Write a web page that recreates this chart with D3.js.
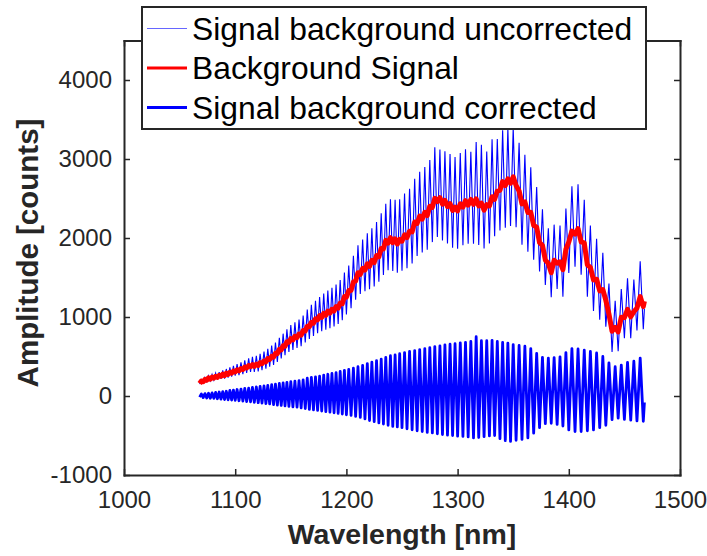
<!DOCTYPE html>
<html>
<head>
<meta charset="utf-8">
<script src="https://cdn.jsdelivr.net/npm/d3@7"></script>
<style>
  body { margin: 0; background: #fff; }
  text { font-family: "Liberation Sans", Arial, Helvetica, sans-serif; }
</style>
</head>
<body>
<script>
// Wavelength samples [nm] (fringe extrema: troughs on even index, peaks on odd)
const wavelength = [
  1068.0,1069.6,1071.2,1072.8,1074.4,1076.0,1077.6,1079.2,1080.8,1082.4,
  1084.0,1085.6,1087.2,1088.8,1090.4,1092.0,1093.6,1095.2,1096.8,1098.4,
  1100.0,1101.7,1103.4,1105.2,1106.9,1108.6,1110.3,1112.1,1113.8,1115.5,
  1117.2,1119.0,1120.7,1122.4,1124.1,1125.9,1127.6,1129.3,1131.0,1132.8,
  1134.5,1136.2,1137.9,1139.7,1141.4,1143.1,1144.8,1146.5,1148.3,1150.0,
  1151.9,1153.7,1155.6,1157.4,1159.3,1161.1,1163.0,1164.8,1166.7,1168.5,
  1170.4,1172.2,1174.1,1175.9,1177.8,1179.6,1181.5,1183.3,1185.2,1187.0,
  1188.9,1190.7,1192.6,1194.4,1196.3,1198.2,1200.0,1202.1,1204.2,1206.3,
  1208.3,1210.4,1212.5,1214.6,1216.7,1218.8,1220.8,1222.9,1225.0,1227.1,
  1229.2,1231.3,1233.3,1235.4,1237.5,1239.6,1241.7,1243.8,1245.8,1247.9,
  1250.0,1252.3,1254.5,1256.8,1259.1,1261.4,1263.6,1265.9,1268.2,1270.5,
  1272.7,1275.0,1277.3,1279.5,1281.8,1284.1,1286.4,1288.6,1290.9,1293.2,
  1295.5,1297.7,1300.0,1302.4,1304.8,1307.1,1309.5,1311.9,1314.3,1316.7,
  1319.0,1321.4,1323.8,1326.2,1328.6,1331.0,1333.3,1335.7,1338.1,1340.5,
  1342.9,1345.2,1347.6,1350.0,1352.6,1355.3,1357.9,1360.5,1363.2,1365.8,
  1368.4,1371.1,1373.7,1376.3,1378.9,1381.6,1384.2,1386.8,1389.5,1392.1,
  1394.7,1397.4,1400.0,1402.8,1405.6,1408.3,1411.1,1413.9,1416.7,1419.4,
  1422.2,1425.0,1427.8,1430.6,1433.3,1436.1,1438.9,1441.7,1444.4,1447.2,
  1450.0,1452.8,1455.7,1458.5,1461.3,1464.2,1467.0,1468.0
];

// Signal background uncorrected [counts]
const uncorrected = [
  150,207,168,233,182,257,193,273,202,289,
  207,303,218,323,221,342,233,363,245,383,
  257,405,265,426,277,453,292,478,305,496,
  305,510,312,535,327,561,347,598,372,638,
  392,678,432,736,476,789,516,845,559,897,
  583,932,609,967,631,1019,678,1094,721,1154,
  761,1206,796,1254,821,1297,838,1334,859,1369,
  879,1411,911,1469,958,1564,1033,1652,1111,1776,
  1218,1909,1291,1982,1326,2059,1351,2124,1386,2202,
  1446,2312,1531,2432,1591,2489,1581,2484,1559,2491,
  1586,2564,1616,2624,1678,2749,1771,2837,1816,2899,
  1851,2986,1948,3150,2013,3119,1968,3097,1931,3064,
  1876,3026,1863,3076,1909,3124,1928,3090,1926,3216,
  1911,3180,1866,3094,1931,3250,2021,3254,2096,3364,
  2131,3389,2151,3394,2136,3204,1916,3054,1826,2894,
  1726,2644,1576,2364,1406,2124,1251,2169,1356,2159,
  1256,2374,1556,2654,1636,2679,1536,2484,1256,2159,
  1076,1989,966,1814,876,1424,556,1204,566,1354,
  731,1489,731,1474,831,1704,846,1104
];

// Background Signal [counts]
const background = [
  158,190,180,210,200,230,214,240,226,250,
  236,262,250,276,258,290,274,300,290,316,
  304,332,318,346,334,366,354,386,372,396,
  376,404,388,422,408,442,432,474,462,502,
  492,540,536,590,584,636,630,686,680,726,
  710,756,740,784,770,828,824,882,878,932,
  922,978,964,1018,996,1046,1022,1074,1050,1098,
  1076,1132,1114,1176,1168,1258,1252,1334,1336,1444,
  1456,1560,1540,1616,1594,1672,1640,1716,1690,1778,
  1762,1868,1862,1970,1936,2004,1940,1990,1924,1982,
  1960,2040,2004,2086,2078,2202,2184,2276,2238,2326,
  2284,2402,2388,2502,2462,2512,2428,2476,2398,2436,
  2348,2392,2342,2432,2392,2472,2416,2488,2426,2494,
  2406,2442,2352,2422,2406,2522,2490,2594,2604,2714,
  2664,2748,2694,2774,2664,2596,2432,2456,2322,2326,
  2160,2138,1940,1908,1720,1678,1560,1718,1680,1698,
  1600,1858,1950,2088,2050,2118,1950,1938,1660,1628,
  1470,1478,1330,1348,1210,1038,820,868,812,998,
  992,1098,1002,1068,1112,1258,1132,1200
];

// Signal background corrected [counts]
const corrected = [
  -15,25,-20,30,-25,35,-28,40,-30,45,
  -35,50,-40,55,-45,60,-48,70,-52,75,
  -55,82,-60,88,-64,95,-70,100,-74,108,
  -80,115,-85,122,-90,128,-95,135,-100,145,
  -110,150,-115,158,-120,165,-125,172,-132,182,
  -138,188,-142,195,-150,205,-158,225,-170,235,
  -175,242,-182,250,-190,265,-198,275,-205,285,
  -212,295,-220,310,-228,325,-238,338,-245,352,
  -258,370,-270,388,-290,410,-310,430,-325,448,
  -340,468,-355,488,-370,510,-385,520,-392,535,
  -400,550,-415,565,-428,575,-440,588,-450,600,
  -460,612,-468,625,-478,635,-488,648,-495,655,
  -500,662,-508,672,-512,680,-518,690,-530,750,
  -525,700,-515,700,-505,705,-500,690,-540,680,
  -565,670,-575,650,-560,640,-550,630,-530,600,
  -470,540,-400,490,-350,480,-345,485,-360,495,
  -380,550,-430,600,-450,595,-450,580,-440,565,
  -430,545,-400,500,-370,420,-300,370,-280,390,
  -295,425,-305,440,-315,480,-320,-80
];

const xTicks = [1000, 1100, 1200, 1300, 1400, 1500];
const yTicks = [-1000, 0, 1000, 2000, 3000, 4000];
const legendLabels = ["Signal background uncorrected", "Background Signal", "Signal background corrected"];

const W = 707, H = 556;
const plotLeft = 124, plotRight = 680, plotTop = 40.5, plotBottom = 475;
const axisColor = "#262626";

const svg = d3.select("body").append("svg")
    .attr("width", W)
    .attr("height", H);

const x = d3.scaleLinear().domain([1000, 1500]).range([plotLeft, plotRight]);
const y = d3.scaleLinear().domain([-1000, 4500]).range([plotBottom, plotTop]);

// Lines
const line = vals => d3.line()
    .x((d, i) => x(wavelength[i]))
    .y(d => y(d))(vals);

svg.append("path")
    .attr("d", line(uncorrected))
    .attr("fill", "none")
    .attr("stroke", "#0000ff")
    .attr("stroke-width", 1.1);

svg.append("path")
    .attr("d", line(background))
    .attr("fill", "none")
    .attr("stroke", "#ff0000")
    .attr("stroke-width", 5)
    .attr("stroke-linejoin", "round");

svg.append("path")
    .attr("d", line(corrected))
    .attr("fill", "none")
    .attr("stroke", "#0000ff")
    .attr("stroke-width", 2.8)
    .attr("stroke-linejoin", "round");

// Axes (ticks inward, MATLAB style box)
const fmt = d => String(d);

const gx = svg.append("g")
    .attr("transform", `translate(0,${plotBottom})`)
    .call(d3.axisBottom(x).tickValues(xTicks).tickFormat(fmt)
        .tickSizeInner(-6).tickSizeOuter(0).tickPadding(16));

const gy = svg.append("g")
    .attr("transform", `translate(${plotLeft},0)`)
    .call(d3.axisLeft(y).tickValues(yTicks).tickFormat(fmt)
        .tickSizeInner(-6).tickSizeOuter(0).tickPadding(12));

const gt = svg.append("g")
    .attr("transform", `translate(0,${plotTop})`)
    .call(d3.axisTop(x).tickValues(xTicks).tickFormat("")
        .tickSizeInner(-6).tickSizeOuter(0));

const gr = svg.append("g")
    .attr("transform", `translate(${plotRight},0)`)
    .call(d3.axisRight(y).tickValues(yTicks).tickFormat("")
        .tickSizeInner(-6).tickSizeOuter(0));

[gx, gy, gt, gr].forEach(g => {
    g.select(".domain").attr("stroke", axisColor).attr("stroke-width", 2)
        .attr("stroke-linecap", "square");
    g.selectAll(".tick line").attr("stroke", axisColor).attr("stroke-width", 1.5);
    g.selectAll(".tick text")
        .attr("fill", axisColor)
        .style("font-size", "24px")
        .style("font-family", '"Liberation Sans", Arial, sans-serif');
});

// Axis labels
svg.append("text")
    .attr("x", (plotLeft + plotRight) / 2)
    .attr("y", 544)
    .attr("text-anchor", "middle")
    .attr("fill", axisColor)
    .style("font-size", "28.5px")
    .style("font-weight", "bold")
    .text("Wavelength [nm]");

svg.append("text")
    .attr("transform", "translate(38,253) rotate(-90)")
    .attr("text-anchor", "middle")
    .attr("fill", axisColor)
    .style("font-size", "29.5px")
    .style("font-weight", "bold")
    .text("Amplitude [counts]");

// Legend
const legend = svg.append("g");
legend.append("rect")
    .attr("x", 142).attr("y", 7)
    .attr("width", 504).attr("height", 122)
    .attr("fill", "#fff")
    .attr("stroke", axisColor)
    .attr("stroke-width", 2);

const legendStyle = [
    { color: "#0000ff", width: 1, opacity: 0.6 },
    { color: "#ff0000", width: 3, opacity: 1 },
    { color: "#0000ff", width: 3, opacity: 1 }
];

legendLabels.forEach((label, i) => {
    const base = 39.5 + i * 39.5;
    legend.append("line")
        .attr("x1", 147).attr("x2", 187)
        .attr("y1", base - 11).attr("y2", base - 11)
        .attr("stroke", legendStyle[i].color)
        .attr("stroke-width", legendStyle[i].width)
        .attr("stroke-opacity", legendStyle[i].opacity);
    legend.append("text")
        .attr("x", 192)
        .attr("y", base)
        .attr("fill", "#000")
        .style("font-size", "31.8px")
        .text(label);
});
</script>
</body>
</html>
